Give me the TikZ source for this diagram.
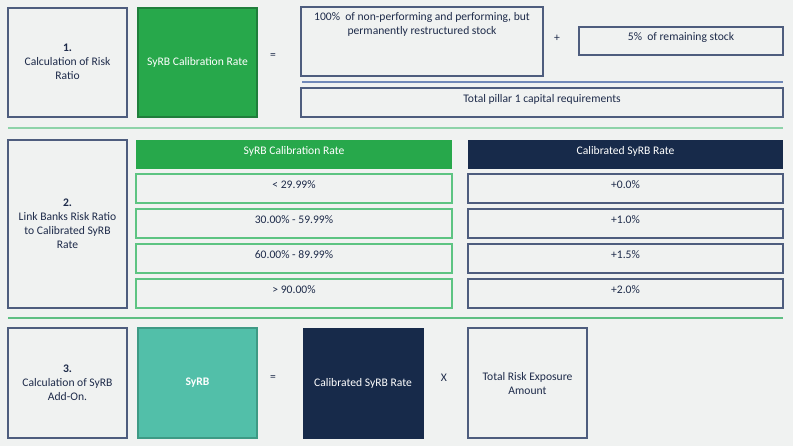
\documentclass[tikz,border=0pt]{standalone}
\usepackage{fontspec}
\setmainfont{Carlito}
\usetikzlibrary{fit}
\definecolor{bg}{HTML}{F0F2F1}
\definecolor{ink}{HTML}{1E2B4A}
\definecolor{bord}{HTML}{4E5D7E}
\definecolor{grn}{HTML}{27A84B}
\definecolor{grnd}{HTML}{1F7E3B}
\definecolor{teal}{HTML}{52BFA9}
\definecolor{teald}{HTML}{3E9A85}
\definecolor{navy}{HTML}{172A4A}
\definecolor{sepa}{HTML}{8ED3A9}
\definecolor{sepb}{HTML}{5FBF83}
\definecolor{rowg}{HTML}{5DC482}
\definecolor{bline}{HTML}{7088B8}
\tikzset{
  base/.style={inner sep=0pt, font=\fontsize{8.7}{10.5}\selectfont, align=center},
  wbox/.style={base, draw=bord, line width=0.9pt, text=ink},
  gbox/.style={base, fill=grn, draw=grnd, line width=0.8pt, text=white},
  tbox/.style={base, fill=teal, draw=teald, line width=0.8pt, text=white, font=\fontsize{8.7}{10.5}\selectfont\bfseries},
  nbox/.style={base, fill=navy, draw=navy, text=white},
  rbox/.style={base, draw=rowg, line width=0.9pt, text=ink},
  ghead/.style={base, fill=grn, text=white},
  nhead/.style={base, fill=navy, text=white},
  toptext/.style={base, text=ink, anchor=center},
  op/.style={base, text=ink},
}
\begin{document}
\begin{tikzpicture}[x=0.75pt, y=-0.75pt]
\fill[bg] (0,0) rectangle (793,446);
\useasboundingbox (0,0) rectangle (793,446);

% ---- section 1
\node[wbox, fit={(8,8)(127,117)}] (s1) {};
\node[base, text=ink] (s1t) at (67.5,62) {\textbf{1.}\\Calculation of Risk\\Ratio};
\node[gbox, fit={(138,8)(257,117)}] (cal) {};
\node[base, text=white] (calt) at (197.5,62) {SyRB Calibration Rate};
\node[op] (eq1) at (273,56) {=};
\node[wbox, fit={(301,7)(543,76)}] (npl) {};
\node[toptext] (nplt) at (422,24) {100\%\ \ of non-performing and performing, but\\permanently restructured stock};
\node[op] (plus) at (557,38) {+};
\node[wbox, fit={(579,27)(783,55)}] (rem) {};
\node[toptext] (remt) at (681,37.5) {5\%\ \ of remaining stock};
\coordinate (fl) at (302,82);
\coordinate (fr) at (783,82);
\draw[bline, line width=1.1pt] (fl) -- (fr);
\node[wbox, fit={(301,88)(783,117)}] (pil) {};
\node[toptext] (pilt) at (542,99) {Total pillar 1 capital requirements};

\coordinate (sa1) at (8,128);
\coordinate (sa2) at (783,128);
\draw[sepa, line width=1.3pt] (sa1) -- (sa2);

% ---- section 2
\node[wbox, fit={(8,140)(127,308)}] (s2) {};
\node[base, text=ink] (s2t) at (67.5,224) {\textbf{2.}\\Link Banks Risk Ratio\\to Calibrated SyRB\\Rate};
\node[ghead, fit={(136,140)(452,169)}] (gh) {};
\node[toptext, text=white] (ght) at (294,151) {SyRB Calibration Rate};
\node[nhead, fit={(468,140)(783,169)}] (nh) {};
\node[toptext, text=white] (nht) at (625.5,151) {Calibrated SyRB Rate};

\foreach \i/\a/\b in {0/{< 29.99\%}/{+0.0\%},1/{30.00\% - 59.99\%}/{+1.0\%},2/{60.00\% - 89.99\%}/{+1.5\%},3/{> 90.00\%}/{+2.0\%}}{
  \pgfmathsetmacro{\yt}{174+35*\i}
  \pgfmathsetmacro{\yb}{\yt+29}
  \pgfmathsetmacro{\yc}{\yt+11}
  \node[rbox, fit={(136,\yt)(452,\yb)}] (gr\i) {};
  \node[toptext] (grt\i) at (294,\yc) {\a};
  \node[wbox, fit={(468,\yt)(783,\yb)}] (nr\i) {};
  \node[toptext] (nrt\i) at (625.5,\yc) {\b};
}

\coordinate (sb1) at (8,318);
\coordinate (sb2) at (783,318);
\draw[sepb, line width=1.1pt] (sb1) -- (sb2);

% ---- section 3
\node[wbox, fit={(8,328)(127,438)}] (s3) {};
\node[base, text=ink] (s3t) at (67.5,383) {\textbf{3.}\\Calculation of SyRB\\Add-On.};
\node[tbox, fit={(138,328)(257,438)}] (syrb) {};
\node[base, text=white, font=\fontsize{8.7}{10.5}\selectfont\bfseries] (syrbt) at (197.5,383) {SyRB};
\node[op] (eq2) at (273,378) {=};
\node[nbox, fit={(303,328)(423,438)}] (csr) {};
\node[base, text=white] (csrt) at (363,383) {Calibrated SyRB Rate};
\node[op] (times) at (444,378) {X};
\node[wbox, fit={(468,328)(587,438)}] (tre) {};
\node[base, text=ink] (tret) at (527.5,384) {Total Risk Exposure\\Amount};
\end{tikzpicture}
\end{document}
